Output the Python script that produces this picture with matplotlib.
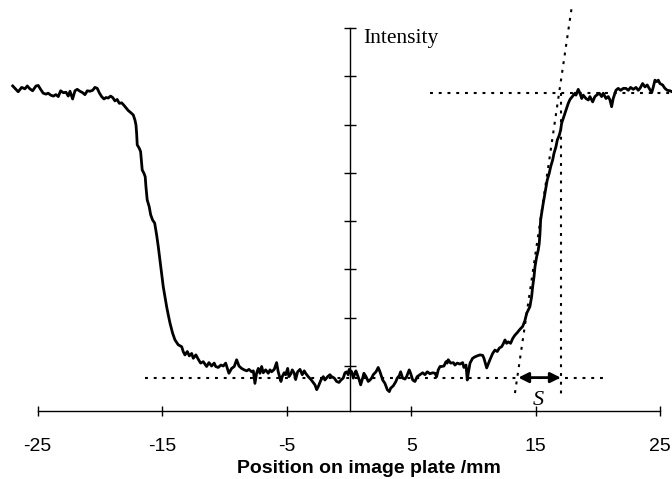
import matplotlib
matplotlib.use("Agg")
import matplotlib.pyplot as plt

# edge profile (position in mm, intensity in a.u.)
pos_mm = [
    -27.00, -26.74, -26.56, -26.28, -26.02, -25.83, -25.62, -25.40, -25.13, -24.95,
    -24.76, -24.55, -24.33, -24.15, -23.95, -23.74, -23.53, -23.34, -23.15, -22.94,
    -22.72, -22.54, -22.40, -22.19, -22.00, -21.82, -21.60, -21.38, -21.20, -21.01,
    -20.80, -20.58, -20.40, -20.21, -20.05, -19.86, -19.67, -19.51, -19.33, -19.14,
    -18.97, -18.79, -18.61, -18.44, -18.25, -18.07, -17.85, -17.72,
    -17.53, -17.32, -17.18, -17.10, -17.05, -17.00, -16.84, -16.73, -16.65, -16.60,
    -16.46, -16.36, -16.30, -16.20, -16.04, -15.92, -15.76, -15.60, -15.44, -15.31,
    -15.18, -15.04, -14.91, -14.78, -14.64, -14.51, -14.37, -14.16, -13.97, -13.71,
    -13.43, -13.31, -13.17, -12.98, -12.82, -12.63, -12.50, -12.29, -12.10, -11.91,
    -11.70, -11.43,
    -11.24, -11.03, -10.82, -10.70, -10.50, -10.28, -10.09, -9.90, -9.74, -9.64,
    -9.42, -9.21, -9.02, -8.83, -8.62, -8.41, -8.21, -8.03, -7.81, -7.68,
    -7.55, -7.41, -7.28, -7.15, -7.01, -6.88, -6.69, -6.48, -6.34, -6.21,
    -6.00, -5.81, -5.68, -5.46, -5.36, -5.20, -5.08, -4.92, -4.82, -4.66,
    -4.55, -4.39, -4.28, -4.12, -3.93, -3.75, -3.59, -3.48, -3.27, -3.05,
    -2.87, -2.73, -2.59, -2.47, -2.25, -2.06, -1.93, -1.71, -1.53, -1.39,
    -1.18, -0.99, -0.80, -0.64, -0.46, -0.32, -0.18, -0.06, 0.02, 0.22,
    0.35, 0.48, 0.56, 0.67, 0.83, 0.94, 1.10, 1.20, 1.37, 1.55,
    1.69, 1.82, 1.95, 2.17, 2.35, 2.49, 2.71, 2.89, 3.08, 3.24,
    3.35, 3.56, 3.77, 3.88, 4.04, 4.15, 4.31, 4.50, 4.63, 4.84,
    4.95, 5.12, 5.30, 5.48, 5.70, 5.92, 6.10, 6.29, 6.50, 6.72,
    6.91, 7.04, 7.17, 7.31, 7.44, 7.63, 7.79, 7.89, 7.97, 8.17,
    8.38, 8.51, 8.70, 8.91, 9.13, 9.23, 9.40, 9.50, 9.58, 9.72,
    9.93, 10.12, 10.30, 10.52, 10.74, 10.84, 11.06, 11.32,
    11.54, 11.72, 11.91, 12.07, 12.26, 12.39, 12.53, 12.66, 12.79, 12.98,
    13.15, 13.33, 13.51, 13.73, 13.95, 14.13, 14.27, 14.40, 14.53, 14.67,
    14.75, 14.86, 14.94, 15.07, 15.20, 15.28, 15.34, 15.39, 15.47, 15.60,
    15.74, 15.82, 15.92, 16.08, 16.20, 16.36, 16.46, 16.62, 16.73, 16.89,
    17.00, 17.08, 17.21, 17.34, 17.48, 17.61, 17.75, 17.96, 18.15,
    18.23, 18.41, 18.55, 18.69, 18.81, 19.03, 19.22, 19.35, 19.57, 19.75,
    19.89, 20.10, 20.29, 20.42, 20.64, 20.82, 20.96, 21.09, 21.22, 21.44,
    21.62, 21.82, 22.03, 22.24, 22.43, 22.62, 22.83, 23.05, 23.23, 23.37,
    23.58, 23.77, 23.95, 24.11, 24.31, 24.44, 24.57, 24.71, 24.84, 24.97,
    25.19, 25.37, 25.56, 25.78, 25.94,
]
intensity = [
    6.80, 6.73, 6.68, 6.77, 6.74, 6.80, 6.74, 6.70, 6.80, 6.81,
    6.73, 6.65, 6.63, 6.65, 6.61, 6.59, 6.62, 6.58, 6.70, 6.66,
    6.67, 6.59, 6.69, 6.53, 6.70, 6.73, 6.69, 6.66, 6.62, 6.70,
    6.69, 6.71, 6.77, 6.75, 6.66, 6.58, 6.53, 6.56, 6.55, 6.59,
    6.56, 6.49, 6.52, 6.44, 6.45, 6.40, 6.33, 6.29,
    6.25, 6.20, 6.09, 5.99, 5.82, 5.58, 5.51, 5.44, 5.20, 5.06,
    4.99, 4.92, 4.71, 4.44, 4.30, 4.13, 4.02, 3.96, 3.71, 3.47,
    3.20, 2.92, 2.64, 2.44, 2.23, 2.06, 1.89, 1.68, 1.54, 1.44,
    1.40, 1.30, 1.23, 1.30, 1.21, 1.26, 1.16, 1.23, 1.14, 1.06,
    1.09, 0.99,
    1.07, 1.00, 1.06, 0.99, 0.97, 1.02, 1.00, 1.06, 0.93, 0.85,
    0.95, 0.99, 1.13, 1.00, 0.95, 0.92, 0.90, 0.93, 0.88, 0.90,
    0.64, 0.86, 0.95, 0.85, 0.99, 0.86, 0.92, 0.85, 0.92, 0.88,
    0.93, 1.07, 0.88, 0.68, 0.78, 0.86, 0.82, 0.95, 0.78, 0.84,
    0.92, 0.85, 0.72, 0.88, 0.93, 0.82, 0.90, 0.85, 0.78, 0.72,
    0.66, 0.61, 0.51, 0.57, 0.71, 0.78, 0.71, 0.78, 0.82, 0.78,
    0.75, 0.68, 0.66, 0.71, 0.75, 0.86, 0.88, 0.82, 0.93, 0.88,
    0.75, 0.85, 0.90, 0.82, 0.71, 0.61, 0.75, 0.85, 0.78, 0.68,
    0.71, 0.75, 0.82, 0.88, 0.97, 0.88, 0.71, 0.64, 0.51, 0.47,
    0.54, 0.59, 0.68, 0.75, 0.80, 0.88, 0.75, 0.73, 0.78, 0.92,
    0.85, 0.71, 0.68, 0.78, 0.82, 0.86, 0.82, 0.88, 0.84, 0.86,
    0.85, 0.78, 0.92, 0.99, 0.99, 1.00, 1.09, 1.06, 1.13, 1.06,
    1.07, 1.02, 1.06, 1.04, 1.07, 0.97, 1.02, 0.71, 0.85, 1.06,
    1.16, 1.19, 1.21, 1.23, 1.22, 1.16, 0.96, 1.13,
    1.26, 1.33, 1.30, 1.37, 1.40, 1.46, 1.54, 1.47, 1.50, 1.47,
    1.57, 1.64, 1.69, 1.76, 1.82, 1.94, 2.09, 2.16, 2.23, 2.44,
    2.64, 2.85, 3.06, 3.26, 3.40, 3.54, 3.75, 4.02, 4.16, 4.37,
    4.58, 4.71, 4.85, 4.99, 5.13, 5.27, 5.40, 5.54, 5.68, 5.78,
    5.89, 6.03, 6.13, 6.23, 6.34, 6.44, 6.52, 6.59, 6.65,
    6.61, 6.73, 6.65, 6.54, 6.61, 6.54, 6.51, 6.58, 6.47, 6.58,
    6.61, 6.65, 6.58, 6.65, 6.54, 6.58, 6.51, 6.37, 6.54, 6.71,
    6.75, 6.71, 6.75, 6.75, 6.71, 6.77, 6.73, 6.77, 6.71, 6.75,
    6.85, 6.78, 6.82, 6.75, 6.66, 6.78, 6.92, 6.89, 6.92, 6.85,
    6.82, 6.75, 6.71, 6.70, 6.68,
]

x_ticks = [-25, -15, -5, 5, 15, 25]
y_ticks = [1, 2, 3, 4, 5, 6, 7, 8]

# construction lines used to define the edge width S
level_high = 6.65
level_low = 0.76
high_line_x = [6.5, 26.0]
low_line_x = [-16.4, 20.4]
edge_end_x = 17.0
edge_end_y = [level_high, 0.40]
tangent_x = [13.33, 17.91]
tangent_y = [0.44, 8.47]
s_start_x = 13.6

fig = plt.figure(figsize=(6.72, 4.79), dpi=100)
ax = fig.add_axes([0, 0, 1, 1])
ax.set_xlim(-28.02, 25.94)
ax.set_ylim(-1.34, 8.58)

dots = (0, (1.4, 2.8))
ax.plot(high_line_x, [level_high, level_high], color="black", lw=1.5, linestyle=dots)
ax.plot(low_line_x, [level_low, level_low], color="black", lw=1.5, linestyle=dots)
ax.plot([edge_end_x, edge_end_x], edge_end_y, color="black", lw=1.5, linestyle=dots)
ax.plot(tangent_x, tangent_y, color="black", lw=1.5, linestyle=dots)

ax.plot(pos_mm, intensity, color="black", lw=2.0, zorder=3)

ax.annotate("", xy=(s_start_x, level_low), xytext=(edge_end_x, level_low),
            arrowprops=dict(arrowstyle="<|-|>", color="black", lw=2,
                            mutation_scale=15, shrinkA=0, shrinkB=0))
ax.text(15.18, 0.28, "S", family="Liberation Serif", style="italic",
        fontsize=16, ha="center", va="center")
ax.text(1.12, 7.69, "Intensity", family="Liberation Serif", fontsize=15.5,
        ha="left", va="baseline")
ax.text(1.6, -1.13, "Position on image plate /mm", family="Liberation Sans",
        fontweight="bold", fontsize=14, ha="center", va="center")

for side in ["top", "right"]:
    ax.spines[side].set_visible(False)
ax.spines["bottom"].set_position(("data", 0.07))
ax.spines["left"].set_position(("data", 0.1))
ax.spines["bottom"].set_bounds(-25, 25)
ax.spines["left"].set_bounds(0.07, 8)
ax.spines["bottom"].set_linewidth(1.0)
ax.spines["left"].set_linewidth(1.0)

ax.set_xticks(x_ticks)
ax.set_xticklabels([str(t) for t in x_ticks], family="Liberation Sans", fontsize=14)
ax.set_yticks(y_ticks)
ax.set_yticklabels([])
ax.tick_params(axis="x", direction="inout", length=7.5, width=1.0, pad=16)
ax.tick_params(axis="y", direction="inout", length=8.5, width=1.0)

fig.savefig("out.png", dpi=100, facecolor="white")
